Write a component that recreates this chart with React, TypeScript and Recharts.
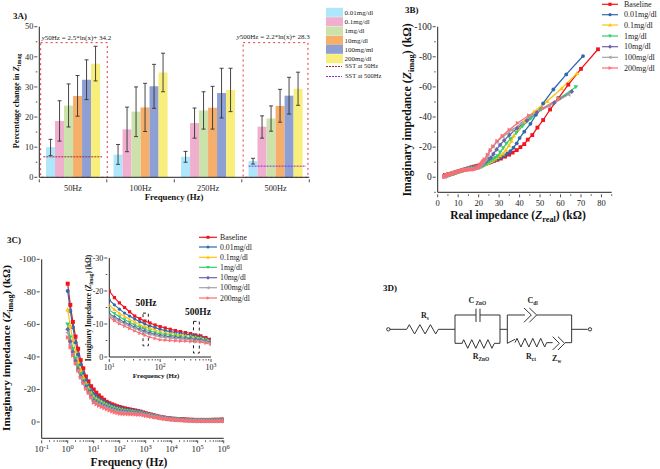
import React from 'react';
import {
  ComposedChart, LineChart, Bar, Line, XAxis, YAxis, ErrorBar, ReferenceArea, ReferenceLine,
} from 'recharts';

const SERIF = '"Liberation Serif", serif';
const AXIS = '#222';

// 3A: percentage change in Zimag
const freqGroups = ['50Hz', '100Hz', '250Hz', '500Hz'];
const barNames = ['0.01mg/dl', '0.1mg/dl', '1mg/dl', '10mg/dl', '100mg/ml', '200mg/dl'];
const barColors = ['#AEE6FB', '#F0AFCF', '#CBE3AB', '#F6AE6B', '#8D9FD3', '#F8EE7C'];
const barValues = [
  [10, 7.5, 6.8, 5.4],
  [18.7, 15.9, 18, 16.8],
  [23.8, 21.8, 22.2, 19.5],
  [27, 23.2, 23.1, 23.7],
  [32.4, 30.2, 28, 27.1],
  [37.7, 34.8, 29, 29.4],
];
const barLow = [
  [7.2, 4.3, 5, 4.4],
  [12, 8.5, 13, 13],
  [16.7, 13.5, 16, 15.3],
  [20.3, 15.2, 16, 18.3],
  [25.8, 22.9, 19.7, 21],
  [32, 28.4, 21.8, 23.9],
];
const barHigh = [
  [12.6, 10.9, 8.6, 6.3],
  [25.4, 23.3, 23, 20.4],
  [31, 30, 28.4, 23.7],
  [33.8, 31.2, 30.2, 29.2],
  [39, 37.5, 36.2, 33.2],
  [43.5, 41.2, 36.2, 34.9],
];
const sst50 = 6.8;
const sst500 = 3.7;
const boxTop = 44.7;

const barTable = freqGroups.map((name, g) => {
  const row: any = { name, slot: g };
  barNames.forEach((_, s) => {
    row['v' + s] = barValues[s][g];
    row['e' + s] = [barValues[s][g] - barLow[s][g], barHigh[s][g] - barValues[s][g]];
  });
  return row;
});

// 3B / 3C: impedance sweep, 1 Hz to 1 MHz
const seriesNames = ['Baseline', '0.01mg/dl', '0.1mg/dl', '1mg/dl', '10mg/dl', '100mg/dl', '200mg/dl'];
const seriesColors = ['#F0141E', '#2F69AE', '#FFC20E', '#35CE6E', '#6A64A8', '#A3A3A3', '#FB6E74'];
const seriesShapes = ['square', 'circle', 'up', 'down', 'diamond', 'left', 'right'];

const frequency = [
  1, 1.26, 1.58, 2, 2.51, 3.16, 3.98, 5.01, 6.31, 7.94,
  10, 12.6, 15.8, 20, 25.1, 31.6, 39.8, 50.1, 63.1, 79.4,
  100, 126, 158, 200, 251, 316, 398, 501, 631, 794,
  1000, 1260, 1580, 2000, 2510, 3160, 3980, 5010, 6310, 7940,
  10000, 12600, 15800, 20000, 25100, 31600, 39800, 50100, 63100, 79400,
  100000, 126000, 158000, 200000, 251000, 316000, 398000, 501000, 631000, 794000, 1000000,
];

// magnitude of the (negative) imaginary part, kOhm
const zimag = [
  [85, 72, 61.5, 52.5, 45, 38, 33, 28, 25, 22, 20, 18, 16.4, 15, 13.7, 12.4, 11.6, 10.9, 10.3, 9.7, 9.2, 8.8, 8.4, 8, 7.7, 7.4, 7.1, 6.7, 6.4, 5.9, 5.4, 5, 4.6, 4.2, 3.8, 3.4, 3.1, 2.8, 2.5, 2.3, 2.1, 2, 1.9, 1.8, 1.7, 1.6, 1.5, 1.4, 1.4, 1.3, 1.3, 1.3, 1.3, 1.3, 1.3, 1.3, 1.4, 1.4, 1.4, 1.5, 1.5],
  [80.5, 68.3, 58.3, 49, 41.5, 35.5, 30.3, 26, 22.5, 19.6, 17.3, 15.8, 14.5, 13.3, 12.4, 11.5, 10.7, 10, 9.4, 8.9, 8.4, 8, 7.7, 7.4, 7.2, 6.9, 6.7, 6.4, 6.1, 5.6, 5.1, 4.8, 4.4, 4, 3.6, 3.3, 3, 2.7, 2.4, 2.2, 2, 1.9, 1.8, 1.7, 1.6, 1.5, 1.4, 1.3, 1.3, 1.2, 1.2, 1.2, 1.2, 1.2, 1.2, 1.2, 1.3, 1.3, 1.3, 1.4, 1.4],
  [69, 59, 50.5, 43.5, 37, 32, 27.5, 24, 21, 18, 15.6, 14.4, 13.3, 12.3, 11.4, 10.6, 9.8, 9.2, 8.7, 8.2, 7.7, 7.4, 7.1, 6.9, 6.7, 6.5, 6.3, 6, 5.8, 5.3, 4.9, 4.6, 4.2, 3.8, 3.5, 3.2, 2.8, 2.6, 2.3, 2.1, 1.9, 1.8, 1.7, 1.6, 1.5, 1.4, 1.3, 1.2, 1.2, 1.1, 1.1, 1.1, 1.1, 1.1, 1.1, 1.1, 1.1, 1.2, 1.2, 1.2, 1.3],
  [60, 52, 45, 39, 34, 29.5, 25.5, 22.5, 19.5, 16.6, 14.2, 13.2, 12.2, 11.3, 10.5, 9.7, 9, 8.4, 7.9, 7.4, 7, 6.8, 6.6, 6.4, 6.2, 6, 5.9, 5.7, 5.5, 5.1, 4.7, 4.4, 4, 3.7, 3.4, 3, 2.7, 2.5, 2.2, 2, 1.8, 1.7, 1.6, 1.5, 1.4, 1.3, 1.2, 1.1, 1.1, 1, 1, 1, 1, 1, 1, 1, 1, 1, 1.1, 1.1, 1.1],
  [57, 49.5, 43, 37.5, 32.5, 28, 24.5, 21.5, 18.5, 15.5, 13, 12.2, 11.3, 10.5, 9.8, 9.1, 8.4, 7.8, 7.3, 6.9, 6.5, 6.3, 6.1, 6, 5.8, 5.7, 5.6, 5.4, 5.2, 4.8, 4.5, 4.2, 3.9, 3.5, 3.2, 2.9, 2.6, 2.4, 2.1, 1.9, 1.7, 1.6, 1.5, 1.4, 1.3, 1.2, 1.1, 1, 1, 0.9, 0.9, 0.9, 0.9, 0.9, 0.9, 0.9, 0.9, 0.9, 0.9, 1, 1],
  [55, 47.5, 41.5, 36, 31.5, 27, 23.5, 20.5, 17.8, 15, 12.5, 11.6, 10.8, 10, 9.3, 8.7, 8, 7.4, 6.9, 6.5, 6.1, 5.9, 5.8, 5.6, 5.5, 5.4, 5.2, 5, 4.9, 4.6, 4.2, 4, 3.7, 3.4, 3.1, 2.8, 2.5, 2.3, 2, 1.8, 1.6, 1.5, 1.4, 1.3, 1.2, 1.1, 1, 0.9, 0.9, 0.8, 0.8, 0.8, 0.8, 0.8, 0.7, 0.7, 0.7, 0.7, 0.8, 0.8, 0.8],
  [52, 46, 41, 36, 31.5, 27.5, 24, 20.5, 18, 15, 12, 11, 10.1, 9.3, 8.6, 7.9, 7.2, 6.6, 6, 5.6, 5.2, 5.1, 5, 4.9, 4.8, 4.8, 4.7, 4.6, 4.5, 4.2, 3.8, 3.6, 3.3, 3, 2.8, 2.5, 2.2, 2, 1.8, 1.6, 1.4, 1.3, 1.2, 1.1, 1, 0.9, 0.8, 0.7, 0.7, 0.6, 0.6, 0.6, 0.5, 0.5, 0.5, 0.5, 0.5, 0.5, 0.5, 0.5, 0.5],
];

const zreal = [
  [78.3, 70, 63.8, 59, 54.9, 51.5, 48.7, 46.2, 44, 42.3, 40.4, 38.6, 36.6, 34.9, 32.9, 30.9, 29.2, 27.6, 26.2, 25, 23.8, 22.8, 21.8, 20.8, 19.8, 18.9, 17.9, 16.9, 16, 14.8, 13.6, 12.7, 11.8, 10.9, 10, 9.2, 8.5, 7.9, 7.3, 6.8, 6.3, 5.9, 5.6, 5.3, 5, 4.8, 4.6, 4.4, 4.3, 4.2, 4.1, 4, 3.9, 3.8, 3.8, 3.7, 3.7, 3.6, 3.6, 3.5, 3.5],
  [71, 62.8, 56.5, 51.5, 48, 45.3, 42.3, 40, 38.6, 37, 35.5, 34, 32.5, 31, 29.6, 28.3, 27, 25.8, 24.8, 23.8, 22.8, 21.9, 21, 20.2, 19.4, 18.6, 17.8, 17, 16.2, 15, 13.9, 12.9, 12, 11, 10.1, 9.3, 8.6, 8, 7.4, 6.9, 6.4, 6, 5.7, 5.4, 5.1, 4.9, 4.7, 4.5, 4.4, 4.3, 4.2, 4.1, 4, 3.9, 3.9, 3.8, 3.8, 3.7, 3.7, 3.6, 3.6],
  [68, 60.5, 53.5, 47, 42.5, 39.3, 37.2, 36, 34.8, 33.3, 31.8, 30.4, 29.2, 28, 27, 26, 25, 24.1, 23.3, 22.6, 21.9, 21, 20.1, 19.2, 18.3, 17.4, 16.6, 15.8, 15, 14.1, 13.2, 12.3, 11.4, 10.5, 9.7, 8.9, 8.2, 7.6, 7, 6.5, 6, 5.6, 5.3, 5, 4.8, 4.6, 4.4, 4.3, 4.2, 4.1, 4, 3.9, 3.9, 3.8, 3.8, 3.7, 3.7, 3.7, 3.6, 3.6, 3.6],
  [67.5, 59, 50.5, 45.5, 41.5, 38.5, 35.5, 33.6, 32, 30.5, 29.3, 28.2, 27.2, 26.2, 25.3, 24.5, 23.7, 23, 22.4, 21.8, 21.2, 20.3, 19.4, 18.5, 17.6, 16.8, 16, 15.3, 14.6, 13.7, 12.8, 11.9, 11, 10.2, 9.4, 8.6, 8, 7.4, 6.8, 6.3, 5.9, 5.5, 5.2, 4.9, 4.7, 4.5, 4.3, 4.2, 4.1, 4, 3.9, 3.8, 3.8, 3.7, 3.7, 3.6, 3.6, 3.6, 3.6, 3.5, 3.5],
  [65.5, 57, 48.5, 43.5, 38.8, 35, 32.5, 30.5, 28.8, 27.2, 26, 25, 24.2, 23.5, 22.9, 22.3, 21.8, 21.3, 20.8, 20.3, 19.7, 18.8, 17.9, 17, 16.2, 15.4, 14.7, 14, 13.3, 12.4, 11.6, 10.7, 9.9, 9.1, 8.4, 7.7, 7.1, 6.5, 6, 5.6, 5.2, 4.9, 4.6, 4.4, 4.2, 4.1, 4, 3.9, 3.8, 3.7, 3.7, 3.6, 3.6, 3.6, 3.5, 3.5, 3.5, 3.5, 3.5, 3.5, 3.5],
  [64, 54.5, 46, 41, 36.5, 31.8, 29, 27, 25.5, 24.5, 23.8, 23.3, 22.8, 22.3, 21.9, 21.5, 21.1, 20.7, 20.3, 19.7, 19, 18, 17, 16, 15.2, 14.4, 13.7, 13, 12.4, 11.6, 10.8, 10, 9.2, 8.5, 7.8, 7.2, 6.6, 6.1, 5.6, 5.2, 4.9, 4.6, 4.4, 4.2, 4.1, 4, 3.9, 3.8, 3.7, 3.7, 3.6, 3.6, 3.5, 3.5, 3.5, 3.4, 3.4, 3.4, 3.4, 3.4, 3.4],
  [59, 51.5, 44.5, 39, 35, 31.6, 29, 27, 25.7, 24.3, 22.8, 22.3, 21.9, 21.5, 21.1, 20.7, 20.3, 19.9, 19.3, 18.6, 17.8, 16.9, 15.9, 15, 14.2, 13.5, 12.9, 12.3, 11.8, 11.1, 10.3, 9.5, 8.8, 8.1, 7.5, 6.9, 6.3, 5.8, 5.4, 5, 4.7, 4.4, 4.2, 4.1, 3.9, 3.8, 3.7, 3.6, 3.6, 3.5, 3.5, 3.4, 3.4, 3.4, 3.3, 3.3, 3.3, 3.3, 3.3, 3.2, 3.2],
];

const sweepTable = frequency.map((freq, i) => {
  const row: any = { freq };
  seriesNames.forEach((_, s) => { row['s' + s] = -zimag[s][i]; });
  return row;
});
const insetTable = sweepTable.filter((r) => r.freq >= 10 && r.freq <= 1000);
const nyquist = seriesNames.map((_, s) => zreal[s].map((re, i) => ({ re, im: -zimag[s][i] })));

// axis ticks
const barYTicks = [0, 5, 10, 15, 20, 25, 30, 35, 40, 45, 50];
const nyqXTicks = [0, 5, 10, 15, 20, 25, 30, 35, 40, 45, 50, 55, 60, 65, 70, 75, 80, 85];
const nyqYTicks = [-100, -90, -80, -70, -60, -50, -40, -30, -20, -10, 0, 10];
const sweepYTicks = [-100, -80, -60, -40, -20, 0];
const insetYTicks = [-30, -25, -20, -15, -10, -5, 0];
const logTicks = (from: number, to: number) => {
  const out: number[] = [];
  for (let e = from; e < to; e++) for (let m = 1; m < 10; m++) out.push(m * Math.pow(10, e));
  out.push(Math.pow(10, to));
  return out;
};
const sweepXTicks = logTicks(-1, 6);
const insetXTicks = logTicks(1, 3);

function Marker({ shape, cx, cy, r, fill }: any) {
  if (cx == null || cy == null) return null;
  if (shape === 'square') return <rect x={cx - r} y={cy - r} width={2 * r} height={2 * r} fill={fill} />;
  if (shape === 'circle') return <circle cx={cx} cy={cy} r={r} fill={fill} />;
  const pts: Record<string, number[][]> = {
    up: [[0, -1.2], [1.2, 0.9], [-1.2, 0.9]],
    down: [[0, 1.2], [1.2, -0.9], [-1.2, -0.9]],
    left: [[-1.2, 0], [0.9, -1.2], [0.9, 1.2]],
    right: [[1.2, 0], [-0.9, -1.2], [-0.9, 1.2]],
    diamond: [[0, -1.3], [1.2, 0], [0, 1.3], [-1.2, 0]],
  };
  return <polygon points={pts[shape].map((p) => `${cx + p[0] * r},${cy + p[1] * r}`).join(' ')} fill={fill} />;
}

const YTick = ({ x, y, payload, step, size }: any) => {
  const v = payload.value;
  const major = v % step === 0;
  return (
    <g>
      <line x1={x} x2={x - (major ? 3 : 1.5)} y1={y} y2={y} stroke={AXIS} strokeWidth={0.8} />
      {major && (
        <text x={x - 4} y={y} dy="0.33em" textAnchor="end" fontSize={size} fontFamily={SERIF} fill="#222">{v}</text>
      )}
    </g>
  );
};

const XTick = ({ x, y, payload, step, size }: any) => {
  const v = payload.value;
  const major = v % step === 0;
  return (
    <g>
      <line x1={x} x2={x} y1={y} y2={y + (major ? 3 : 1.5)} stroke={AXIS} strokeWidth={0.8} />
      {major && (
        <text x={x} y={y + 12} textAnchor="middle" fontSize={size} fontFamily={SERIF} fill="#222">{v}</text>
      )}
    </g>
  );
};

const LogTick = ({ x, y, payload, size }: any) => {
  const exp = Math.log10(payload.value);
  const major = Math.abs(exp - Math.round(exp)) < 1e-6;
  return (
    <g>
      <line x1={x} x2={x} y1={y} y2={y + (major ? 3 : 1.5)} stroke={AXIS} strokeWidth={0.8} />
      {major && (
        <text x={x} y={y + size + 3} textAnchor="middle" fontSize={size} fontFamily={SERIF} fill="#222">
          10<tspan dy={-size * 0.4} fontSize={size * 0.72}>{Math.round(exp)}</tspan>
        </text>
      )}
    </g>
  );
};

const GroupTick = ({ x, y, payload, index }: any) => (
  <g>
    <line x1={x - 33.75} x2={x - 33.75} y1={y} y2={y + 3} stroke={AXIS} strokeWidth={0.8} />
    {index === freqGroups.length - 1 && (
      <line x1={x + 33.75} x2={x + 33.75} y1={y} y2={y + 3} stroke={AXIS} strokeWidth={0.8} />
    )}
    <text x={x} y={y + 12} textAnchor="middle" fontSize={8.3} fontFamily={SERIF} fill="#222">{payload.value}</text>
  </g>
);

const dotFor = (s: number, r: number) => (p: any) => (
  <Marker key={p.index} shape={seriesShapes[s]} cx={p.cx} cy={p.cy} r={r} fill={seriesColors[s]} />
);

const frame = (left: number, top: number): React.CSSProperties => ({ position: 'absolute', left, top });

function BarPanel() {
  return (
    <div style={frame(0, 0)}>
      <ComposedChart
        width={320} height={215} data={barTable}
        margin={{ top: 26.7, right: 10.7, bottom: 0, left: 0 }}
        barCategoryGap="10%" barGap={0}
      >
        <XAxis dataKey="name" height={37.7} interval={0} tickSize={0} tickLine={false} axisLine={{ stroke: AXIS }} tick={<GroupTick />} />
        <XAxis xAxisId="pos" dataKey="slot" type="number" domain={[0, 4]} allowDataOverflow hide />
        <YAxis width={39.3} domain={[0, 50]} ticks={barYTicks} interval={0} tickSize={0} tickLine={false} axisLine={{ stroke: AXIS }}
          tick={(p: any) => <YTick {...p} step={10} size={8.3} />} />
        {barNames.map((n, s) => (
          <Bar key={n} dataKey={'v' + s} fill={barColors[s]} isAnimationActive={false}>
            <ErrorBar dataKey={'e' + s} width={2} stroke="#333" strokeWidth={0.9} isAnimationActive={false} />
          </Bar>
        ))}
        <ReferenceArea xAxisId="pos" x1={0.02} x2={1.007} y1={0} y2={boxTop} fill="none" stroke="#E8323C" strokeDasharray="2 3" />
        <ReferenceArea xAxisId="pos" x1={3.02} x2={3.98} y1={0} y2={boxTop} fill="none" stroke="#E8323C" strokeDasharray="2 3" />
        <ReferenceLine xAxisId="pos" segment={[{ x: 0.06, y: sst50 }, { x: 0.93, y: sst50 }]} stroke="#A02A38" strokeDasharray="2 1" />
        <ReferenceLine xAxisId="pos" segment={[{ x: 3.1, y: sst500 }, { x: 3.95, y: sst500 }]} stroke="#8A2BE2" strokeDasharray="2 1" />
      </ComposedChart>
    </div>
  );
}

function NyquistPanel() {
  return (
    <div style={frame(380, 0)}>
      <LineChart width={280} height={225} margin={{ top: 26.7, right: 48.3, bottom: 0, left: 0 }}>
        <XAxis dataKey="re" type="number" height={32.7} domain={[0, 85]} ticks={nyqXTicks} interval={0} tickSize={0} tickLine={false}
          axisLine={{ stroke: AXIS }} tick={(p: any) => <XTick {...p} step={10} size={8.5} />} />
        <YAxis dataKey="im" type="number" width={57.7} reversed domain={[-100, 10]} ticks={nyqYTicks} interval={0} tickSize={0} tickLine={false}
          axisLine={{ stroke: AXIS }} tick={(p: any) => <YTick {...p} step={20} size={9.5} />} />
        {seriesNames.map((n, s) => (
          <Line key={n} data={nyquist[s]} dataKey="im" stroke={seriesColors[s]} strokeWidth={1.3} dot={dotFor(s, 1.9)} isAnimationActive={false} />
        ))}
      </LineChart>
    </div>
  );
}

function SweepPanel() {
  return (
    <div style={frame(0, 240)}>
      <LineChart width={240} height={229} data={sweepTable} margin={{ top: 19.3, right: 16.3, bottom: 0, left: 0 }}>
        <XAxis dataKey="freq" type="number" scale="log" height={30.7} domain={[0.1, 1000000]} allowDataOverflow ticks={sweepXTicks} interval={0}
          tickSize={0} tickLine={false} axisLine={{ stroke: AXIS }} tick={(p: any) => <LogTick {...p} size={9} />} />
        <YAxis width={41.7} reversed domain={[-100, 10]} ticks={sweepYTicks} interval={0} tickSize={0} tickLine={false}
          axisLine={{ stroke: AXIS }} tick={(p: any) => <YTick {...p} step={20} size={9} />} />
        {seriesNames.map((n, s) => (
          <Line key={n} dataKey={'s' + s} stroke={seriesColors[s]} strokeWidth={1.2} dot={dotFor(s, 2)} isAnimationActive={false} />
        ))}
      </LineChart>
    </div>
  );
}

function InsetPanel() {
  return (
    <div style={frame(80, 245)}>
      <LineChart width={145} height={135} data={insetTable} margin={{ top: 13, right: 14, bottom: 0, left: 0 }}>
        <XAxis dataKey="freq" type="number" scale="log" height={23} domain={[10, 1000]} allowDataOverflow ticks={insetXTicks} interval={0}
          tickSize={0} tickLine={false} axisLine={{ stroke: AXIS }} tick={(p: any) => <LogTick {...p} size={8} />} />
        <YAxis width={29.3} reversed domain={[-30, 0]} ticks={insetYTicks} interval={0} tickSize={0} tickLine={false}
          axisLine={{ stroke: AXIS }} tick={(p: any) => <YTick {...p} step={10} size={8} />} />
        {seriesNames.map((n, s) => (
          <Line key={n} dataKey={'s' + s} stroke={seriesColors[s]} strokeWidth={1.1} dot={dotFor(s, 1.6)} isAnimationActive={false} />
        ))}
        <ReferenceArea x1={46} x2={58.7} y1={-13.3} y2={-3.4} fill="none" stroke="#222" strokeDasharray="3 3" />
        <ReferenceArea x1={453} x2={589} y1={-10.8} y2={-1.2} fill="none" stroke="#222" strokeDasharray="3 3" />
      </LineChart>
    </div>
  );
}

// italic Z with a subscript, then whatever follows back on the baseline
const Z = ({ sub, size, after }: any) => (
  <>
    <tspan fontStyle="italic">Z</tspan>
    <tspan dy={size * 0.25} fontSize={size * 0.72}>{sub}</tspan>
    {after && <tspan dy={-size * 0.25}>{after}</tspan>}
  </>
);

function VLabel({ x, y, size, children }: any) {
  return (
    <text transform={`translate(${x},${y}) rotate(-90)`} textAnchor="middle" fontSize={size} fontWeight="bold" fontFamily={SERIF} fill="#111">
      {children}
    </text>
  );
}

function HLabel({ x, y, size, children }: any) {
  return (
    <text x={x} y={y} textAnchor="middle" fontSize={size} fontWeight="bold" fontFamily={SERIF} fill="#111">{children}</text>
  );
}

function LineLegend({ x0, x1, tx, ys, size, r }: any) {
  return (
    <g>
      {seriesNames.map((n, s) => (
        <g key={n}>
          <line x1={x0} x2={x1} y1={ys[s]} y2={ys[s]} stroke={seriesColors[s]} strokeWidth={1.2} />
          <Marker shape={seriesShapes[s]} cx={(x0 + x1) / 2} cy={ys[s]} r={r} fill={seriesColors[s]} />
          <text x={tx} y={ys[s]} dy="0.33em" fontSize={size} fontFamily={SERIF} fill="#222">{n}</text>
        </g>
      ))}
    </g>
  );
}

const barLegendY = [12.3, 21.7, 31, 40.3, 49.3, 58.7];

function BarLegend() {
  return (
    <g fontFamily={SERIF} fill="#222">
      {barNames.map((n, s) => (
        <g key={n}>
          <rect x={326} y={barLegendY[s] - 4.5} width={17} height={9} fill={barColors[s]} />
          <text x={344.5} y={barLegendY[s]} dy="0.33em" fontSize={7}>{n}</text>
        </g>
      ))}
      <line x1={326} x2={342} y1={66.5} y2={66.5} stroke="#A02A38" strokeDasharray="2 1" />
      <text x={345} y={66} dy="0.33em" fontSize={6.5}>SST at 50Hz</text>
      <line x1={326} x2={342} y1={76.5} y2={76.5} stroke="#8A2BE2" strokeDasharray="2 1" />
      <text x={345} y={76} dy="0.33em" fontSize={6.5}>SST at 500Hz</text>
    </g>
  );
}

const zig = (x0: number, x1: number, y: number, n: number, h: number) => {
  const pts = [`${x0},${y}`];
  for (let i = 0; i < n; i++) {
    pts.push(`${x0 + ((x1 - x0) * (i + 0.5)) / n},${y + (i % 2 ? h : -h)}`);
  }
  pts.push(`${x1},${y}`);
  return pts.join(' ');
};

function Circuit() {
  const wire = { fill: 'none', stroke: '#333', strokeWidth: 3 };
  const label = { fontFamily: SERIF, fontWeight: 'bold', fontSize: 24, fill: '#222', textAnchor: 'middle' } as any;
  return (
    <g transform="translate(370,270) scale(0.3333)">
      <circle cx={55} cy={178} r={5} {...wire} />
      <polyline points="60,178 110,178" {...wire} />
      <polyline points={zig(110, 205, 178, 6, 14)} {...wire} />
      <polyline points="205,178 255,178" {...wire} />
      <polyline points="318,135 255,135 255,220 275,220" {...wire} />
      <line x1={318} x2={318} y1={116} y2={156} {...wire} />
      <line x1={330} x2={330} y1={116} y2={156} {...wire} />
      <polyline points="330,135 390,135 390,220 372,220" {...wire} />
      <polyline points={zig(275, 372, 222, 8, 13)} {...wire} />
      <polyline points="390,178 412,178" {...wire} />
      <polyline points="465,135 412,135 412,220 435,208" {...wire} />
      <polyline points={zig(435, 530, 218, 8, 13)} {...wire} />
      <polyline points="530,218 548,218" {...wire} />
      <polyline points="462,114 484,135 462,157" {...wire} />
      <polyline points="478,114 500,135 478,157" {...wire} />
      <polyline points="500,135 605,135 605,218 585,218" {...wire} />
      <polyline points="548,200 568,220 548,240" {...wire} />
      <polyline points="564,200 584,220 564,240" {...wire} />
      <polyline points="605,178 653,178" {...wire} />
      <circle cx={660} cy={178} r={5} {...wire} />
      <text x={165} y={145} {...label}>R<tspan dy={5} fontSize={16}>s</tspan></text>
      <text x={322} y={100} {...label}>C<tspan dy={6} fontSize={16}> ZnO</tspan></text>
      <text x={488} y={100} {...label}>C<tspan dy={6} fontSize={16}>dl</tspan></text>
      <text x={333} y={268} {...label}>R<tspan dy={6} fontSize={16}>ZnO</tspan></text>
      <text x={483} y={268} {...label}>R<tspan dy={6} fontSize={16}>ct</tspan></text>
      <text x={560} y={272} {...label}>Z<tspan dy={6} fontSize={16}>w</tspan></text>
    </g>
  );
}

function Overlay() {
  return (
    <svg width={660} height={469} style={{ position: 'absolute', left: 0, top: 0, pointerEvents: 'none' }}>
      <g fontFamily={SERIF} fontWeight="bold" fontSize={9} fill="#111">
        <text x={13} y={19}>3A)</text>
        <text x={405} y={13}>3B)</text>
        <text x={7} y={243}>3C)</text>
        <text x={383} y={291}>3D)</text>
      </g>

      <text x={41.7} y={39.5} fontSize={7} fontFamily={SERIF} fill="#222"><tspan fontStyle="italic">y</tspan>50Hz = 2.5*ln(x)+ 34.2</text>
      <text x={236.7} y={39} fontSize={7} fontFamily={SERIF} fill="#222"><tspan fontStyle="italic">y</tspan>500Hz = 2.2*ln(x)+ 28.3</text>
      <HLabel x={174} y={200} size={8.8}>Frequency (Hz)</HLabel>
      <VLabel x={19} y={101} size={8.3}>Percentage change in <Z sub="imag" size={8.3} /></VLabel>
      <BarLegend />

      <HLabel x={518} y={219} size={11.5}>Real impedance (<Z sub="real" size={11.5} after=") (kΩ)" /></HLabel>
      <VLabel x={411} y={110} size={11.8}>Imaginary impedance (<Z sub="imag" size={11.8} after=") (kΩ)" /></VLabel>
      <LineLegend x0={602} x1={618} tx={624} ys={[4.3, 14.7, 25, 36, 46.7, 57.3, 68]} size={8} r={1.6} />

      <HLabel x={129} y={465.5} size={11.5}>Frequency (Hz)</HLabel>
      <VLabel x={10} y={348} size={11.3}>Imaginary impedance (<Z sub="imag" size={11.3} after=") (kΩ)" /></VLabel>
      <LineLegend x0={199} x1={217} tx={220} ys={[237.3, 247, 257.3, 267.3, 277.7, 287.7, 298]} size={7.8} r={1.5} />

      <HLabel x={146} y={306} size={9.5}>50Hz</HLabel>
      <HLabel x={198} y={315} size={9.5}>500Hz</HLabel>
      <HLabel x={156} y={378} size={7}>Frequency (Hz)</HLabel>
      <VLabel x={91} y={308} size={7.2}>Imaginary Impedance (<Z sub="imag" size={7.2} after=") (kΩ)" /></VLabel>

      <Circuit />
    </svg>
  );
}

export default function App() {
  return (
    <div style={{ position: 'absolute', left: 0, top: 0, width: 660, height: 469, background: '#fff', overflow: 'hidden' }}>
      <BarPanel />
      <NyquistPanel />
      <SweepPanel />
      <InsetPanel />
      <Overlay />
    </div>
  );
}
